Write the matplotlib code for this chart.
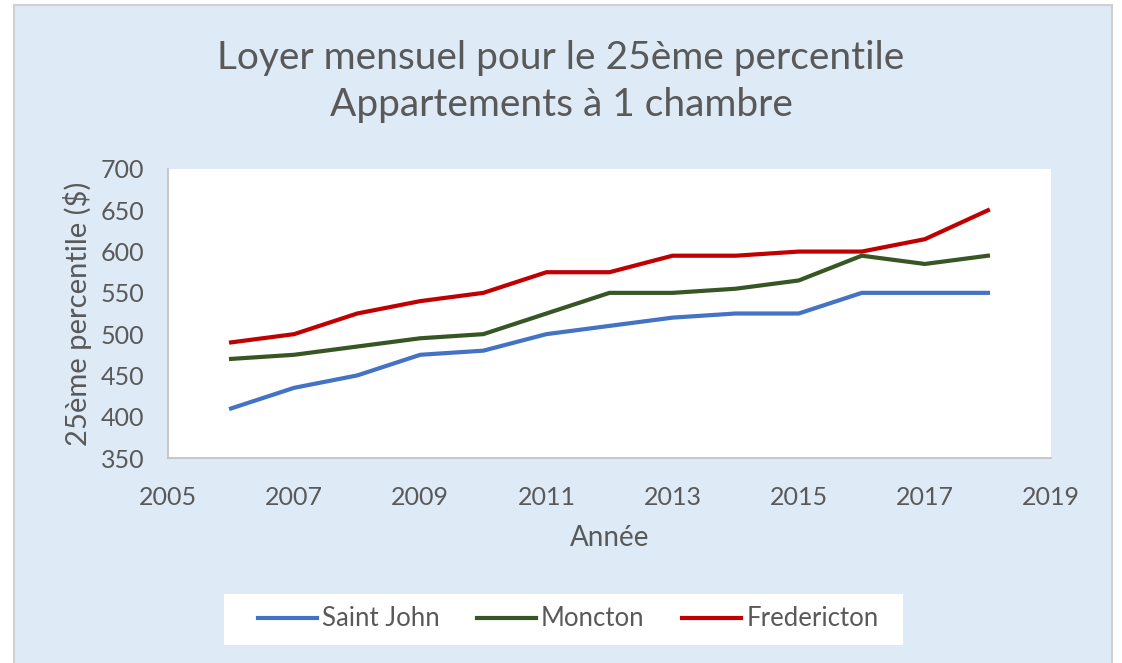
import numpy as np
import matplotlib.pyplot as plt
from matplotlib.patches import Rectangle

years = [2006, 2007, 2008, 2009, 2010, 2011, 2012, 2013, 2014, 2015, 2016, 2017, 2018]
saint_john = [410, 435, 450, 475, 480, 500, 510, 520, 525, 525, 550, 550, 550]
moncton = [470, 475, 485, 495, 500, 525, 550, 550, 555, 565, 595, 585, 595]
fredericton = [490, 500, 525, 540, 550, 575, 575, 595, 595, 600, 600, 615, 650]

xticks = [2005, 2007, 2009, 2011, 2013, 2015, 2017, 2019]
yticks = [350, 400, 450, 500, 550, 600, 650, 700]

plt.rcParams['font.family'] = ['Lato', 'DejaVu Sans']
grey = '#595959'
bg = '#DEEAF6'
W, H = 1122, 663

fig = plt.figure(figsize=(11.22, 6.63), dpi=100, facecolor='white')
# chart area with thin grey border
fig.patches.append(Rectangle((14/W, -0.05), (1112-14)/W, 1.05-5/H, transform=fig.transFigure,
                             facecolor=bg, edgecolor='#D0D0D0', lw=1.5, zorder=-1))
# white legend box
fig.patches.append(Rectangle((224/W, 1-645/H), (903-224)/W, (645-594)/H, transform=fig.transFigure,
                             facecolor='white', edgecolor='none', zorder=0))

ax = fig.add_axes([168/W, 1-458/H, (1051-168)/W, (458-169)/H])
ax.set_facecolor('white')

ax.plot(years, saint_john, color='#4472C4', lw=3, label='Saint John')
ax.plot(years, moncton, color='#375623', lw=3, label='Moncton')
ax.plot(years, fredericton, color='#C00000', lw=3, label='Fredericton')

ax.set_xlim(2005, 2019)
ax.set_ylim(350, 700)
ax.set_xticks(xticks)
ax.set_yticks(yticks)
ax.tick_params(axis='y', length=0, labelsize=18, colors=grey, pad=17)
ax.tick_params(axis='x', length=0, labelsize=18, colors=grey, pad=20)
for s in ['top', 'right']:
    ax.spines[s].set_visible(False)
for s in ['left', 'bottom']:
    ax.spines[s].set_color('#BFBFBF')
    ax.spines[s].set_linewidth(1.2)

ax.set_xlabel('Année', fontsize=20, color=grey, labelpad=12)
ax.set_ylabel('25ème percentile ($)', fontsize=21, color=grey, labelpad=6)

fig.text(0.5, 1-58/H, 'Loyer mensuel pour le 25ème percentile', ha='center', va='center',
         fontsize=28, color=grey)
fig.text(0.5, 1-105/H, 'Appartements à 1 chambre', ha='center', va='center',
         fontsize=28, color=grey)

leg = fig.legend(loc='center', bbox_to_anchor=(568/W, 1-619/H), ncol=3, fontsize=18.5,
                 frameon=False, handlelength=2.3, columnspacing=1.45, borderpad=0,
                 borderaxespad=0, handletextpad=0.2)
for t in leg.get_texts():
    t.set_color(grey)

fig.savefig('out.png', dpi=100, facecolor='white')
